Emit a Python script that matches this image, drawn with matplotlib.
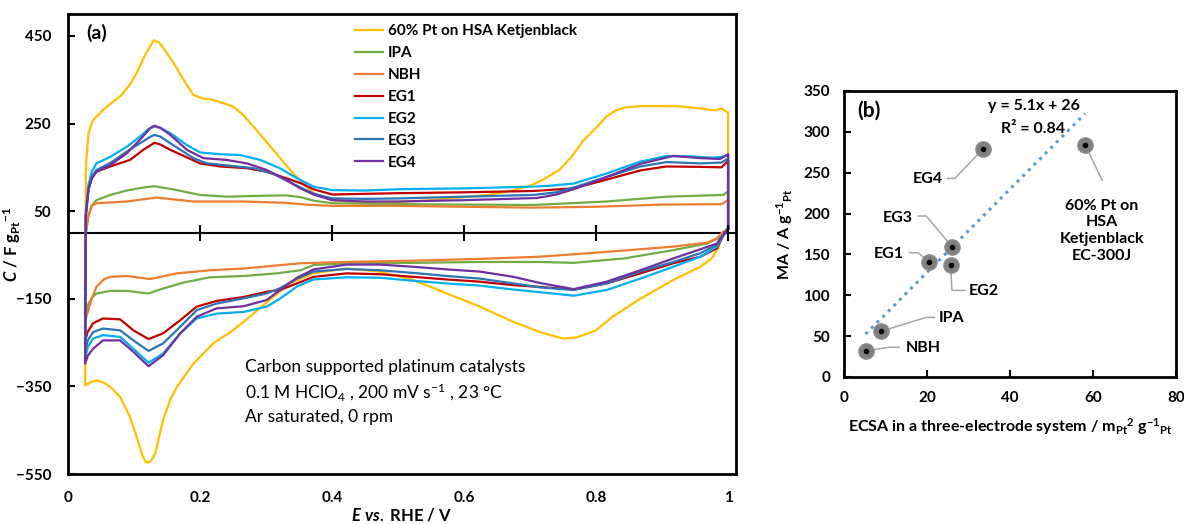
import numpy as np
import matplotlib
matplotlib.use("Agg")
import matplotlib.pyplot as plt

plt.rcParams['font.family'] = ['Lato', 'DejaVu Sans']
plt.rcParams['mathtext.fontset'] = 'custom'
plt.rcParams['mathtext.rm'] = 'Lato'
plt.rcParams['mathtext.bf'] = 'Lato:bold'
plt.rcParams['mathtext.it'] = 'Lato:bold:italic'

# ---------------- Panel (a) data: cyclic voltammograms ----------------
series_labels = ["60% Pt on HSA Ketjenblack", "IPA", "NBH", "EG1", "EG2", "EG3", "EG4"]
series_colors = ["#FFC000", "#70AD47", "#ED7D31", "#C00000", "#00B0F0", "#2E75B6", "#7030A0"]

pt60_an_E = [0.027, 0.031, 0.037, 0.043, 0.06, 0.079, 0.092, 0.104, 0.118, 0.13, 0.138, 0.148, 0.16, 0.175,
             0.19, 0.205, 0.22, 0.25, 0.265, 0.281, 0.311, 0.341, 0.372, 0.40, 0.45, 0.50, 0.55, 0.60, 0.635,
             0.67, 0.70, 0.72, 0.745, 0.765, 0.78, 0.80, 0.815, 0.83, 0.845, 0.87, 0.90, 0.93, 0.96, 0.98,
             0.99, 1.0]
pt60_an_C = [150, 228, 255, 266, 290, 312, 335, 365, 410, 440, 435, 415, 388, 350,
             315, 307, 304, 289, 270, 243, 190, 136, 91, 75, 70, 71, 75, 82, 87,
             96, 108, 122, 145, 178, 210, 240, 265, 280, 287, 290, 290, 289, 284, 280,
             284, 275]
pt60_ca_E = [0.026, 0.035, 0.044, 0.055, 0.064, 0.079, 0.094, 0.104, 0.112, 0.118, 0.125, 0.132, 0.144, 0.155,
             0.165, 0.19, 0.22, 0.25, 0.281, 0.311, 0.336, 0.372, 0.422, 0.473, 0.523, 0.574, 0.624, 0.675,
             0.715, 0.75, 0.771, 0.80, 0.826, 0.867, 0.917, 0.958, 0.975, 0.985, 0.992, 1.0]
pt60_ca_C = [-348, -340, -336, -342, -351, -374, -420, -465, -505, -524, -522, -504, -427, -380,
             -351, -298, -252, -222, -184, -146, -115, -92, -81, -88, -107, -138, -168, -203,
             -226, -241, -238, -222, -190, -150, -107, -77, -58, -35, -5, 10]

ipa_an_E = [0.027, 0.031, 0.036, 0.043, 0.064, 0.089, 0.11, 0.131, 0.165, 0.20, 0.24, 0.291, 0.33, 0.352,
            0.372, 0.40, 0.50, 0.60, 0.705, 0.816, 0.907, 0.993, 1.0]
ipa_an_C = [0, 40, 62, 75, 87, 97, 103, 107, 98, 87, 83, 85, 86, 82,
            74, 68, 66, 65, 64, 72, 83, 87, 95]
ipa_ca_E = [0.026, 0.029, 0.036, 0.043, 0.064, 0.089, 0.122, 0.139, 0.175, 0.215, 0.266, 0.316, 0.352,
            0.372, 0.422, 0.523, 0.624, 0.715, 0.766, 0.842, 0.917, 0.968, 0.988, 0.995, 1.0]
ipa_ca_C = [-200, -168, -148, -138, -132, -132, -138, -129, -113, -101, -98, -92, -85,
            -73, -69, -68, -66, -66, -68, -58, -39, -24, -10, 0, 10]

nbh_an_E = [0.027, 0.031, 0.036, 0.043, 0.089, 0.134, 0.19, 0.266, 0.33, 0.36, 0.40, 0.50, 0.60, 0.705,
            0.80, 0.90, 0.99, 1.0]
nbh_an_C = [0, 40, 62, 68, 72, 81, 72, 72, 69, 65, 62, 62, 60, 58,
            60, 65, 66, 75]
nbh_ca_E = [0.026, 0.031, 0.036, 0.043, 0.055, 0.064, 0.089, 0.124, 0.165, 0.215, 0.266, 0.352, 0.422,
            0.523, 0.624, 0.715, 0.816, 0.917, 0.968, 0.983, 0.99, 1.0]
nbh_ca_C = [-200, -175, -150, -123, -105, -100, -98, -105, -92, -85, -81, -69, -66,
            -63, -59, -54, -43, -31, -22, -12, 0, 10]

eg_ca_E = [0.026, 0.03, 0.038, 0.053, 0.079, 0.099, 0.122, 0.144, 0.17, 0.195, 0.225, 0.266, 0.301, 0.321,
           0.347, 0.372, 0.422, 0.473, 0.523, 0.574, 0.624, 0.675, 0.715, 0.766, 0.816, 0.867, 0.917, 0.958,
           0.983, 0.992, 1.0]

eg1_an_E = [0.027, 0.031, 0.036, 0.043, 0.064, 0.094, 0.114, 0.131, 0.14, 0.155, 0.20, 0.23, 0.271, 0.301,
            0.331, 0.352, 0.372, 0.40, 0.50, 0.60, 0.705, 0.766, 0.816, 0.867, 0.907, 0.958, 0.99, 1.0]
eg1_an_C = [40, 100, 125, 140, 152, 167, 190, 206, 202, 190, 159, 152, 148, 140,
            125, 114, 100, 88, 91, 93, 96, 102, 122, 143, 152, 151, 150, 165]
eg1_ca_C = [-245, -225, -206, -195, -197, -222, -242, -229, -199, -168, -155, -146, -134, -130,
            -115, -100, -92, -94, -100, -106, -111, -119, -123, -129, -115, -92, -69, -54,
            -35, -8, 10]

eg2_an_E = [0.027, 0.031, 0.036, 0.043, 0.064, 0.089, 0.109, 0.122, 0.131, 0.14, 0.155, 0.18, 0.20, 0.23,
            0.261, 0.291, 0.321, 0.347, 0.372, 0.40, 0.45, 0.50, 0.60, 0.705, 0.73, 0.766, 0.816, 0.867,
            0.907, 0.942, 0.978, 0.995, 1.0]
eg2_an_C = [50, 110, 140, 159, 174, 197, 220, 238, 243, 240, 228, 201, 184, 180,
            178, 167, 148, 125, 106, 98, 97, 100, 102, 106, 108, 113, 136, 163,
            176, 175, 172, 175, 180]
eg2_ca_C = [-285, -260, -241, -233, -237, -264, -296, -275, -229, -195, -184, -180, -168, -150,
            -122, -106, -101, -102, -109, -115, -120, -129, -135, -143, -130, -104, -77, -54,
            -31, -8, 10]

eg3_an_E = [0.027, 0.031, 0.036, 0.043, 0.064, 0.089, 0.109, 0.125, 0.131, 0.14, 0.155, 0.19, 0.21, 0.25,
            0.281, 0.311, 0.341, 0.372, 0.40, 0.45, 0.50, 0.60, 0.705, 0.74, 0.766, 0.816, 0.867, 0.907,
            0.958, 0.99, 1.0]
eg3_an_C = [40, 100, 128, 144, 160, 186, 205, 220, 224, 220, 205, 171, 159, 153,
            148, 135, 112, 90, 79, 78, 79, 83, 87, 93, 104, 128, 152, 162,
            159, 161, 170]
eg3_ca_C = [-270, -245, -226, -218, -222, -245, -269, -252, -214, -176, -161, -149, -138, -126,
            -104, -88, -82, -85, -91, -98, -104, -115, -124, -130, -115, -88, -66, -46,
            -27, -6, 10]

eg4_an_E = [0.027, 0.031, 0.036, 0.043, 0.064, 0.089, 0.109, 0.125, 0.131, 0.14, 0.155, 0.18, 0.205, 0.24,
            0.271, 0.301, 0.331, 0.352, 0.372, 0.40, 0.45, 0.50, 0.60, 0.71, 0.74, 0.766, 0.816, 0.867,
            0.917, 0.958, 0.988, 1.0]
eg4_an_C = [40, 100, 125, 140, 155, 182, 213, 240, 245, 240, 224, 190, 171, 167,
            159, 144, 121, 102, 88, 75, 72, 72, 75, 80, 88, 100, 128, 158,
            176, 171, 169, 180]
eg4_ca_C = [-298, -280, -264, -245, -245, -271, -304, -279, -229, -191, -172, -167, -153, -130,
            -102, -83, -72, -72, -77, -83, -88, -100, -114, -128, -111, -85, -58, -37,
            -24, -5, 10]

cv_anodic = [(pt60_an_E, pt60_an_C), (ipa_an_E, ipa_an_C), (nbh_an_E, nbh_an_C), (eg1_an_E, eg1_an_C),
             (eg2_an_E, eg2_an_C), (eg3_an_E, eg3_an_C), (eg4_an_E, eg4_an_C)]
cv_cathodic = [(pt60_ca_E, pt60_ca_C), (ipa_ca_E, ipa_ca_C), (nbh_ca_E, nbh_ca_C), (eg_ca_E, eg1_ca_C),
               (eg_ca_E, eg2_ca_C), (eg_ca_E, eg3_ca_C), (eg_ca_E, eg4_ca_C)]

a_xticks = [0, 0.2, 0.4, 0.6, 0.8, 1.0]
a_xticklabels = ["0", "0.2", "0.4", "0.6", "0.8", "1"]
a_yticks = [-550, -350, -150, 50, 250, 450]

# ---------------- Panel (b) data: MA vs ECSA ----------------
b_labels = ["NBH", "IPA", "EG1", "EG2", "EG3", "EG4", "60% Pt on\nHSA\nKetjenblack\nEC-300J"]
b_ecsa = [5.2, 9.0, 20.6, 25.7, 26.1, 33.5, 58.1]
b_ma = [32, 56, 141, 137, 159, 279, 284]
fit_slope = 5.1
fit_intercept = 26
b_xticks = [0, 20, 40, 60, 80]
b_yticks = [0, 50, 100, 150, 200, 250, 300, 350]

# ---------------- Figure ----------------
W, H = 1184, 524
fig = plt.figure(figsize=(W / 100, H / 100), dpi=100)

def frac_rect(l, t, r, b):
    return [l / W, 1 - b / H, (r - l) / W, (b - t) / H]

axA = fig.add_axes(frac_rect(68, 14, 736, 474))
axB = fig.add_axes(frac_rect(844, 91, 1176, 377))

for (ae, ac), (ce, cc), lab, col in zip(cv_anodic, cv_cathodic, series_labels, series_colors):
    xs = np.r_[np.array(ce)[::-1], ae, ce[-1]]
    ys = np.r_[np.array(cc)[::-1], ac, cc[-1]]
    axA.plot(xs, ys, color=col, lw=1.6, label=lab, solid_joinstyle='round')

axA.set_xlim(0, 1.012)
axA.set_ylim(-550, 500)
axA.axhline(0, color='black', lw=1.5, zorder=1)
axA.plot(a_xticks[1:], [0] * (len(a_xticks) - 1), ls='none', marker='|', ms=11, mew=1.5, color='black')
axA.set_xticks(a_xticks)
axA.set_xticklabels(a_xticklabels)
axA.set_yticks(a_yticks)
axA.tick_params(axis='x', length=0, pad=12, labelsize=11)
axA.tick_params(axis='y', direction='in', length=5, width=1.5, pad=12, labelsize=11)
for lbl in axA.get_xticklabels() + axA.get_yticklabels():
    lbl.set_fontweight('bold')
for s in axA.spines.values():
    s.set_linewidth(2)

axA.set_ylabel(r"$\mathit{C}$ / F g$_{\mathbf{Pt}}{}^{\mathbf{-1}}$", fontsize=12, fontweight='bold')
axA.yaxis.set_label_coords(-0.068, 0.5)
axA.set_xlabel(r"$\mathit{E\ vs.}$ RHE / V", fontsize=12, fontweight='bold')
axA.xaxis.set_label_coords(0.5, -0.071)
axA.xaxis.label.set_va('top')

leg = axA.legend(loc='upper left', bbox_to_anchor=(0.4296, 0.978), frameon=False, fontsize=11,
                 handlelength=1.85, handletextpad=0.3, labelspacing=0.52, borderpad=0, borderaxespad=0)
for t in leg.get_texts():
    t.set_fontweight('bold')

axA.text(0.044, 457, "(a)", fontsize=14, fontweight='bold', ha='center', va='center')
axA.text(0.268, -306, "Carbon supported platinum catalysts", fontsize=12.5, va='center', ha='left')
axA.text(0.268, -363, r"0.1 M HClO$_4$ , 200 mV s$^{-1}$ , 23 °C", fontsize=12.5, va='center', ha='left')
axA.text(0.268, -421, "Ar saturated, 0 rpm", fontsize=12.5, va='center', ha='left')

# ---- Panel (b)
xfit = np.array([min(b_ecsa), max(b_ecsa)])
axB.plot(xfit, fit_slope * xfit + fit_intercept, ls=(0, (1, 1.6)), color='#5B9BD5', lw=2.2, zorder=2)

# leader lines (layout): elbow points from the marker towards each label
leaders = [
    [(10.9, 36.4), (13.3, 36.4)],
    [(19.8, 73), (21.8, 73)],
    [(17.8, 152), (15.8, 152)],
    [(26.0, 106), (29.1, 106)],
    [(19.8, 197), (17.8, 197)],
    [(26.7, 243), (25.0, 243)],
    [(62.2, 240.8)],
]
label_pos = [(19.2, 35.2), (26.0, 72), (10.9, 150), (33.7, 104.8), (12.9, 194), (20.2, 242), (62.1, 178.9)]

for px, py, pts, (lx, ly), lab in zip(b_ecsa, b_ma, leaders, label_pos, b_labels):
    path = [(px, py)] + pts
    axB.plot([p[0] for p in path], [p[1] for p in path], color='#A6A6A6', lw=1.1, zorder=3)
    axB.text(lx, ly, lab, fontsize=11.5, fontweight='bold', ha='center', va='center', linespacing=1.25)

axB.plot(b_ecsa, b_ma, ls='none', marker='o', ms=11, mfc='#808080', mec='#8C8C8C', zorder=4)
axB.plot(b_ecsa, b_ma, ls='none', marker='o', ms=3, mfc='black', mec='black', zorder=5)

axB.text(45.65, 332, "y = 5.1x + 26", fontsize=11.5, fontweight='bold', ha='center', va='center')
axB.text(45.65, 304, "R² = 0.84", fontsize=11.5, fontweight='bold', ha='center', va='center')
axB.text(5.9, 326, "(b)", fontsize=15, fontweight='bold', ha='center', va='center')

axB.set_xlim(0, 80)
axB.set_ylim(0, 350)
axB.set_xticks(b_xticks)
axB.set_yticks(b_yticks)
axB.tick_params(direction='in', length=5, width=1.5, labelsize=11)
axB.tick_params(axis='x', pad=10)
axB.tick_params(axis='y', pad=10)
for lbl in axB.get_xticklabels() + axB.get_yticklabels():
    lbl.set_fontweight('bold')
for s in axB.spines.values():
    s.set_linewidth(2)
axB.set_ylabel(r"MA / A g$^{\mathbf{-1}}{}_{\mathbf{Pt}}$", fontsize=11.5, fontweight='bold', labelpad=6)
axB.set_xlabel(r"ECSA in a three-electrode system / m$_{\mathbf{Pt}}{}^{\mathbf{2}}$ g$^{\mathbf{-1}}{}_{\mathbf{Pt}}$",
               fontsize=11.5, fontweight='bold', labelpad=8)

fig.savefig("out.png", dpi=100)
